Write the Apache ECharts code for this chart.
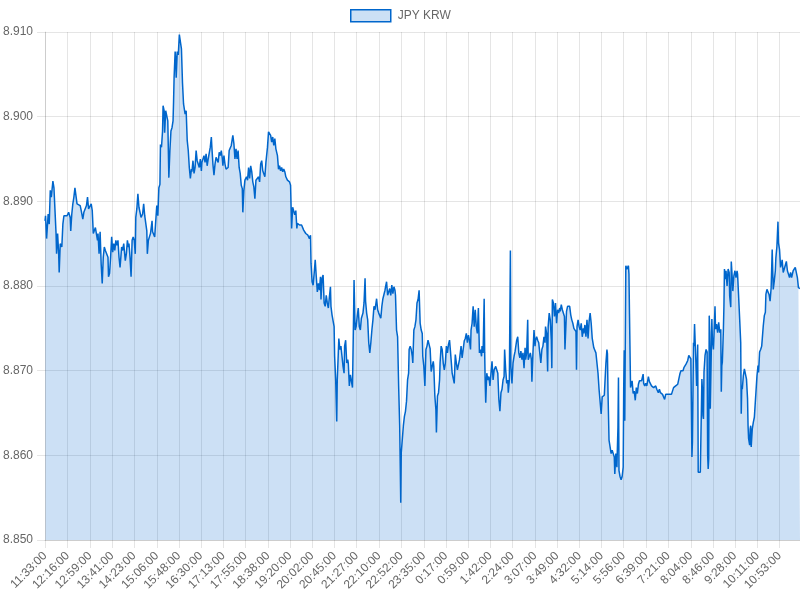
<!DOCTYPE html>
<html>
<head>
<meta charset="utf-8">
<script src="https://cdn.jsdelivr.net/npm/echarts@6/dist/echarts.min.js"></script>
<style>
html, body { margin: 0; padding: 0; background: #fff; }
#chart { width: 800px; height: 600px; }
</style>
</head>
<body>
<div id="chart"></div>
<script>
var seriesName = 'JPY KRW';

// x tick labels and their offset (minutes after 11:33:00)
var tickLabels = ['11:33:00','12:16:00','12:59:00','13:41:00','14:23:00','15:06:00','15:48:00','16:30:00',
    '17:13:00','17:55:00','18:38:00','19:20:00','20:02:00','20:45:00','21:27:00','22:10:00','22:52:00',
    '23:35:00','0:17:00','0:59:00','1:42:00','2:24:00','3:07:00','3:49:00','4:32:00','5:14:00','5:56:00',
    '6:39:00','7:21:00','8:04:00','8:46:00','9:28:00','10:11:00','10:53:00'];
var tickMinutes = [0,43,86,128,170,213,255,297,340,382,425,467,509,552,594,637,679,722,764,806,849,
    891,934,976,1019,1061,1103,1146,1188,1231,1273,1315,1358,1400];
var lastMinute = 1439;

// [minute, rate]
var rates = [
 [0,8.8877],[1,8.8883],[3,8.8856],[6,8.8885],[8,8.8873],[10,8.8913],[12,8.8905],[15,8.8924],[17,8.8916],[19,8.8889],
 [21,8.8862],[22,8.8838],[24,8.8862],[26,8.8838],[27,8.8816],[29,8.8850],[32,8.8846],[34,8.8873],[36,8.8883],[39,8.8885],
 [42,8.8883],[45,8.8887],[48,8.8881],[49,8.8865],[51,8.8885],[53,8.8897],[55,8.8905],[57,8.8916],[59,8.8916],[61,8.8897],
 [63,8.8895],[67,8.8895],[69,8.8889],[72,8.8879],[74,8.8887],[77,8.8885],[79,8.8895],[81,8.8905],[83,8.8891],[86,8.8891],
 [88,8.8897],[90,8.8889],[92,8.8862],[94,8.8860],[96,8.8869],[98,8.8869],[100,8.8854],[101,8.8862],[103,8.8838],[105,8.8864],
 [107,8.8826],[109,8.8803],[111,8.8834],[113,8.8846],[115,8.8842],[117,8.8842],[120,8.8834],[121,8.8811],[123,8.8815],[125,8.8834],
 [127,8.8858],[129,8.8840],[131,8.8850],[133,8.8842],[135,8.8854],[137,8.8848],[139,8.8854],[141,8.8834],[143,8.8822],[145,8.8838],
 [146,8.8846],[148,8.8842],[150,8.8850],[153,8.8830],[155,8.8838],[157,8.8854],[159,8.8846],[160,8.8850],[162,8.8834],[164,8.8811],
 [166,8.8854],[168,8.8858],[170,8.8854],[172,8.8838],[173,8.8881],[175,8.8891],[177,8.8909],[179,8.8893],[181,8.8895],[183,8.8881],
 [185,8.8883],[186,8.8885],[188,8.8897],[190,8.8883],[192,8.8883],[194,8.8865],[195,8.8838],[197,8.8854],[199,8.8858],[201,8.8862],
 [204,8.8877],[205,8.8864],[207,8.8862],[209,8.8858],[211,8.8856],[213,8.8895],[215,8.8883],[217,8.8916],[219,8.8920],[220,8.8967],
 [222,8.8964],[224,8.8983],[225,8.9013],[227,8.9007],[228,8.8981],[230,8.9007],[232,8.9005],[234,8.8995],[236,8.8928],[238,8.8960],
 [240,8.8983],[242,8.8987],[244,8.8995],[245,8.9018],[246,8.9046],[248,8.9077],[249,8.9069],[250,8.9046],[252,8.9077],[254,8.9073],
 [256,8.9097],[257,8.9097],[258,8.9099],[260,8.9080],[262,8.9040],[264,8.9015],[267,8.9003],[269,8.9007],[271,8.8972],[273,8.8960],
 [275,8.8940],[277,8.8927],[279,8.8938],[280,8.8935],[282,8.8948],[284,8.8933],[286,8.8940],[288,8.8960],[290,8.8948],[292,8.8950],
 [294,8.8940],[296,8.8950],[298,8.8936],[299,8.8946],[301,8.8948],[303,8.8954],[305,8.8946],[307,8.8956],[309,8.8942],[311,8.8950],
 [313,8.8952],[315,8.8964],[317,8.8976],[318,8.8964],[320,8.8944],[322,8.8931],[324,8.8944],[326,8.8952],[328,8.8952],[330,8.8946],
 [332,8.8958],[334,8.8954],[336,8.8960],[338,8.8950],[339,8.8942],[341,8.8954],[343,8.8944],[345,8.8938],[347,8.8940],[349,8.8940],
 [351,8.8960],[353,8.8962],[355,8.8966],[357,8.8974],[358,8.8978],[360,8.8968],[362,8.8950],[364,8.8962],[366,8.8950],[368,8.8960],
 [370,8.8940],[372,8.8933],[374,8.8919],[376,8.8915],[377,8.8887],[379,8.8913],[381,8.8925],[383,8.8923],[384,8.8929],[386,8.8925],
 [388,8.8940],[390,8.8927],[392,8.8942],[394,8.8935],[396,8.8923],[398,8.8917],[400,8.8903],[402,8.8925],[403,8.8927],[405,8.8925],
 [407,8.8929],[409,8.8923],[411,8.8944],[413,8.8948],[415,8.8936],[417,8.8935],[419,8.8929],[421,8.8946],[422,8.8952],[424,8.8964],
 [426,8.8982],[428,8.8982],[430,8.8978],[432,8.8970],[434,8.8976],[436,8.8966],[438,8.8974],[440,8.8962],[441,8.8964],[443,8.8954],
 [445,8.8938],[447,8.8942],[449,8.8936],[451,8.8940],[453,8.8935],[455,8.8938],[457,8.8935],[459,8.8929],[461,8.8931],[462,8.8925],
 [464,8.8927],[466,8.8923],[468,8.8919],[470,8.8868],[472,8.8893],[474,8.8893],[476,8.8884],[478,8.8889],[480,8.8868],[481,8.8874],
 [483,8.8876],[485,8.8872],[487,8.8870],[489,8.8872],[491,8.8870],[493,8.8866],[495,8.8868],[497,8.8862],[499,8.8864],[501,8.8860],
 [502,8.8858],[504,8.8856],[506,8.8860],[507,8.8827],[509,8.8805],[511,8.8801],[513,8.8815],[515,8.8831],[517,8.8811],[519,8.8793],
 [521,8.8803],[523,8.8795],[525,8.8811],[526,8.8784],[528,8.8809],[530,8.8813],[532,8.8780],[534,8.8776],[536,8.8789],[538,8.8780],
 [540,8.8774],[542,8.8787],[544,8.8799],[545,8.8776],[547,8.8766],[549,8.8768],[551,8.8752],[552,8.8717],[554,8.8689],[556,8.8640],
 [557,8.8689],[559,8.8721],[560,8.8738],[562,8.8725],[564,8.8729],[566,8.8717],[568,8.8705],[570,8.8697],[571,8.8729],[573,8.8736],
 [575,8.8709],[577,8.8713],[578,8.8709],[580,8.8682],[582,8.8695],[584,8.8693],[586,8.8680],[588,8.8760],[589,8.8807],[591,8.8748],
 [593,8.8752],[595,8.8764],[597,8.8774],[599,8.8752],[601,8.8748],[603,8.8762],[604,8.8760],[606,8.8768],[608,8.8780],[610,8.8809],
 [611,8.8782],[613,8.8768],[615,8.8760],[617,8.8733],[619,8.8721],[621,8.8733],[623,8.8748],[625,8.8760],[627,8.8776],[629,8.8772],
 [630,8.8774],[632,8.8785],[634,8.8772],[636,8.8768],[638,8.8766],[640,8.8762],[642,8.8776],[644,8.8785],[646,8.8784],[648,8.8795],
 [649,8.8799],[651,8.8805],[653,8.8789],[655,8.8793],[657,8.8797],[659,8.8789],[661,8.8801],[663,8.8791],[665,8.8799],[667,8.8795],
 [668,8.8789],[670,8.8748],[672,8.8740],[674,8.8682],[676,8.8635],[678,8.8544],[679,8.8603],[681,8.8619],[683,8.8635],[685,8.8646],
 [687,8.8652],[689,8.8664],[691,8.8689],[693,8.8697],[694,8.8725],[696,8.8729],[698,8.8725],[700,8.8717],[701,8.8709],[703,8.8748],
 [705,8.8752],[707,8.8760],[709,8.8780],[711,8.8784],[713,8.8795],[715,8.8756],[717,8.8748],[719,8.8744],[720,8.8717],[722,8.8705],
 [724,8.8682],[726,8.8725],[728,8.8729],[730,8.8736],[732,8.8738],[734,8.8726],[736,8.8699],[738,8.8705],[740,8.8711],[741,8.8705],
 [743,8.8670],[745,8.8654],[746,8.8627],[748,8.8670],[750,8.8674],[752,8.8689],[753,8.8709],[755,8.8729],[757,8.8725],[759,8.8709],
 [761,8.8701],[763,8.8709],[765,8.8729],[767,8.8721],[769,8.8731],[771,8.8736],[773,8.8721],[774,8.8713],[776,8.8697],[778,8.8699],
 [780,8.8685],[782,8.8719],[784,8.8709],[786,8.8701],[788,8.8703],[790,8.8713],[792,8.8711],[793,8.8729],[795,8.8715],[797,8.8725],
 [799,8.8735],[801,8.8738],[803,8.8744],[805,8.8733],[807,8.8742],[809,8.8736],[811,8.8725],[812,8.8748],[814,8.8756],[816,8.8776],
 [818,8.8752],[820,8.8772],[822,8.8752],[824,8.8744],[826,8.8774],[828,8.8721],[830,8.8725],[832,8.8717],[833,8.8729],[835,8.8721],
 [837,8.8785],[838,8.8721],[839,8.8685],[840,8.8662],[842,8.8697],[844,8.8689],[846,8.8693],[848,8.8682],[850,8.8697],[852,8.8711],
 [854,8.8689],[856,8.8701],[857,8.8699],[859,8.8705],[861,8.8705],[863,8.8697],[865,8.8666],[867,8.8652],[869,8.8674],[871,8.8678],
 [873,8.8689],[875,8.8693],[876,8.8725],[878,8.8701],[880,8.8685],[882,8.8689],[883,8.8674],[885,8.8689],[887,8.8842],[888,8.8705],
 [890,8.8685],[892,8.8709],[894,8.8717],[896,8.8723],[897,8.8725],[899,8.8736],[901,8.8740],[903,8.8721],[905,8.8715],[907,8.8723],
 [909,8.8713],[911,8.8721],[913,8.8703],[915,8.8727],[916,8.8713],[918,8.8721],[920,8.8760],[921,8.8713],[923,8.8717],[925,8.8721],
 [927,8.8713],[928,8.8687],[930,8.8721],[932,8.8748],[934,8.8729],[935,8.8736],[937,8.8740],[939,8.8736],[941,8.8733],[943,8.8721],
 [945,8.8709],[947,8.8725],[949,8.8729],[951,8.8740],[953,8.8733],[954,8.8752],[956,8.8744],[958,8.8699],[959,8.8752],[961,8.8768],
 [963,8.8760],[965,8.8736],[966,8.8703],[967,8.8784],[969,8.8780],[971,8.8764],[973,8.8780],[975,8.8756],[977,8.8772],[979,8.8768],
 [981,8.8774],[982,8.8770],[984,8.8778],[986,8.8772],[988,8.8770],[990,8.8764],[991,8.8725],[993,8.8756],[994,8.8770],[996,8.8776],
 [998,8.8774],[1000,8.8776],[1002,8.8766],[1004,8.8760],[1006,8.8756],[1008,8.8750],[1010,8.8752],[1012,8.8746],[1013,8.8701],[1014,8.8752],
 [1016,8.8760],[1018,8.8752],[1020,8.8748],[1022,8.8756],[1024,8.8740],[1026,8.8750],[1027,8.8744],[1029,8.8754],[1031,8.8740],[1033,8.8760],
 [1035,8.8738],[1037,8.8758],[1039,8.8768],[1041,8.8756],[1043,8.8738],[1045,8.8736],[1046,8.8727],[1048,8.8725],[1050,8.8721],[1052,8.8723],
 [1054,8.8697],[1056,8.8678],[1057,8.8680],[1060,8.8649],[1062,8.8669],[1064,8.8667],[1066,8.8671],[1067,8.8669],[1069,8.8708],[1071,8.8725],
 [1072,8.8720],[1073,8.8676],[1075,8.8618],[1077,8.8610],[1079,8.8602],[1081,8.8606],[1083,8.8602],[1085,8.8598],[1086,8.8578],[1088,8.8602],
 [1090,8.8586],[1092,8.8633],[1093,8.8692],[1094,8.8582],[1096,8.8575],[1098,8.8571],[1100,8.8575],[1102,8.8586],[1103,8.8680],[1104,8.8724],
 [1105,8.8641],[1107,8.8824],[1108,8.8822],[1109,8.8820],[1111,8.8822],[1112,8.8824],[1113,8.8814],[1114,8.8767],[1116,8.8680],[1118,8.8680],
 [1119,8.8688],[1121,8.8673],[1123,8.8676],[1125,8.8665],[1127,8.8680],[1129,8.8673],[1131,8.8684],[1133,8.8688],[1135,8.8686],[1137,8.8688],
 [1138,8.8686],[1140,8.8696],[1141,8.8685],[1143,8.8682],[1145,8.8685],[1147,8.8682],[1149,8.8689],[1150,8.8693],[1152,8.8687],[1154,8.8685],
 [1156,8.8682],[1158,8.8684],[1160,8.8680],[1162,8.8678],[1164,8.8682],[1166,8.8678],[1168,8.8680],[1169,8.8674],[1171,8.8678],[1173,8.8674],
 [1175,8.8676],[1177,8.8672],[1179,8.8670],[1181,8.8666],[1183,8.8672],[1185,8.8670],[1187,8.8672],[1190,8.8673],[1194,8.8672],[1196,8.8674],
 [1198,8.8680],[1200,8.8682],[1202,8.8682],[1204,8.8680],[1206,8.8684],[1209,8.8682],[1210,8.8696],[1212,8.8700],[1214,8.8702],[1216,8.8700],
 [1218,8.8704],[1220,8.8706],[1222,8.8708],[1223,8.8710],[1225,8.8712],[1227,8.8718],[1229,8.8716],[1231,8.8714],[1233,8.8598],[1234,8.8616],
 [1236,8.8733],[1237,8.8729],[1238,8.8755],[1239,8.8737],[1241,8.8702],[1242,8.8682],[1243,8.8706],[1244,8.8731],[1245,8.8580],[1247,8.8580],
 [1249,8.8580],[1251,8.8580],[1252,8.8690],[1253,8.8678],[1254,8.8647],[1255,8.8643],[1256,8.8698],[1258,8.8718],[1260,8.8725],[1262,8.8722],
 [1263,8.8600],[1264,8.8584],[1265,8.8596],[1266,8.8765],[1267,8.8745],[1268,8.8655],[1270,8.8725],[1271,8.8761],[1272,8.8737],[1274,8.8725],
 [1275,8.8741],[1277,8.8776],[1278,8.8749],[1280,8.8755],[1282,8.8745],[1284,8.8757],[1286,8.8745],[1288,8.8749],[1289,8.8675],[1290,8.8706],
 [1291,8.8710],[1293,8.8749],[1294,8.8776],[1295,8.8820],[1297,8.8808],[1298,8.8818],[1300,8.8800],[1302,8.8820],[1304,8.8816],[1305,8.8788],
 [1307,8.8775],[1308,8.8829],[1310,8.8808],[1311,8.8794],[1313,8.8812],[1315,8.8818],[1317,8.8810],[1319,8.8818],[1320,8.8814],[1322,8.8788],
 [1324,8.8761],[1326,8.8733],[1327,8.8649],[1328,8.8682],[1329,8.8678],[1331,8.8694],[1333,8.8702],[1335,8.8702],[1337,8.8690],[1339,8.8667],
 [1340,8.8635],[1341,8.8620],[1343,8.8612],[1344,8.8631],[1345,8.8635],[1346,8.8610],[1348,8.8631],[1350,8.8639],[1352,8.8645],[1353,8.8643],
 [1355,8.8643],[1357,8.8694],[1359,8.8706],[1360,8.8698],[1362,8.8722],[1364,8.8725],[1366,8.8729],[1367,8.8737],[1369,8.8753],[1371,8.8765],
 [1373,8.8769],[1374,8.8790],[1376,8.8796],[1378,8.8794],[1380,8.8790],[1382,8.8782],[1384,8.8798],[1386,8.8843],[1388,8.8796],[1390,8.8806],
 [1392,8.8818],[1393,8.8833],[1395,8.8847],[1397,8.8876],[1398,8.8851],[1400,8.8843],[1402,8.8822],[1404,8.8827],[1405,8.8831],[1407,8.8816],
 [1409,8.8820],[1411,8.8818],[1413,8.8829],[1415,8.8818],[1417,8.8814],[1419,8.8810],[1421,8.8816],[1423,8.8810],[1425,8.8812],[1426,8.8818],
 [1428,8.8818],[1430,8.8822],[1432,8.8824],[1434,8.8810],[1436,8.8798],[1438,8.8798],[1439,8.8797]
];

var lineColor = '#0066cc';
var fillColor = 'rgba(0, 102, 204, 0.2)';
var gridColor = 'rgba(0, 0, 0, 0.1)';
var textColor = '#666';
var fontFamily = '"Liberation Sans", Arial, Helvetica, sans-serif';

var chart = echarts.init(document.getElementById('chart'), null, { renderer: 'canvas' });

chart.setOption({
    animation: false,
    backgroundColor: '#fff',
    textStyle: { fontFamily: fontFamily },
    legend: {
        left: 350,
        top: 9,
        padding: 0,
        itemWidth: 40,
        itemHeight: 12,
        data: [{
            name: seriesName,
            icon: 'rect',
            itemStyle: { color: fillColor, borderColor: lineColor, borderWidth: 1.5, opacity: 1 }
        }],
        textStyle: { color: textColor, fontSize: 12, fontFamily: fontFamily, padding: [0, 0, 0, 2] }
    },
    grid: { left: 44, right: 0, top: 32, bottom: 60, containLabel: false },
    xAxis: {
        type: 'value',
        min: 0,
        max: lastMinute,
        axisLine: { show: true, lineStyle: { color: gridColor } },
        axisTick: { show: true, length: 8, customValues: tickMinutes, lineStyle: { color: gridColor } },
        splitLine: { show: true, lineStyle: { color: gridColor } },
        axisLabel: {
            customValues: tickMinutes,
            rotate: 45,
            margin: 14,
            color: textColor,
            fontSize: 12,
            fontFamily: fontFamily,
            formatter: function (v) {
                var i = tickMinutes.indexOf(v);
                return i >= 0 ? tickLabels[i] : '';
            }
        }
    },
    yAxis: {
        type: 'value',
        min: 8.85,
        max: 8.91,
        interval: 0.01,
        axisLine: { show: true, lineStyle: { color: gridColor } },
        axisTick: { show: true, length: 8, lineStyle: { color: gridColor } },
        splitLine: { show: true, lineStyle: { color: gridColor } },
        axisLabel: {
            margin: 12,
            color: textColor,
            fontSize: 12,
            fontFamily: fontFamily,
            formatter: function (v) { return v.toFixed(3); }
        }
    },
    series: [{
        name: seriesName,
        type: 'line',
        data: rates,
        showSymbol: false,
        smooth: false,
        color: lineColor,
        lineStyle: { color: lineColor, width: 1.5 },
        areaStyle: { color: fillColor, opacity: 1, origin: 'start' }
    }]
});
</script>
</body>
</html>
